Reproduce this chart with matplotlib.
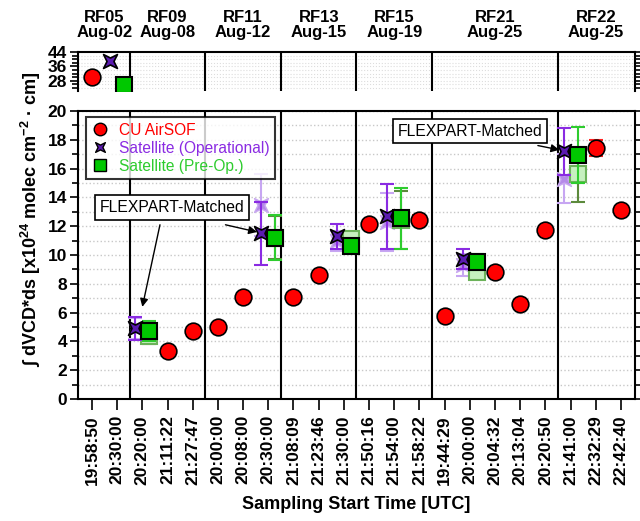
import numpy as np
import matplotlib
matplotlib.use("Agg")
import matplotlib.pyplot as plt
from matplotlib.path import Path
from matplotlib.transforms import blended_transform_factory

plt.rcParams["font.family"] = ["Liberation Sans", "DejaVu Sans"]
plt.rcParams["mathtext.fontset"] = "custom"
plt.rcParams["mathtext.rm"] = "Liberation Sans"
plt.rcParams["mathtext.bf"] = "Liberation Sans:bold"
plt.rcParams["mathtext.default"] = "bf"

# sampling start times (categorical x axis)
times = ["19:58:50", "20:30:00", "20:20:00", "21:11:22", "21:27:47",
         "20:00:00", "20:08:00", "20:30:00", "21:08:09", "21:23:46",
         "21:30:00", "21:50:16", "21:54:00", "21:58:22", "19:44:29",
         "20:00:00", "20:04:32", "20:13:04", "20:20:50", "21:41:00",
         "22:32:29", "22:42:40"]
flights = ["RF05\nAug-02", "RF09\nAug-08", "RF11\nAug-12", "RF13\nAug-15",
           "RF15\nAug-19", "RF21\nAug-25", "RF22\nAug-25"]
flight_sizes = [2, 3, 3, 3, 3, 5, 3]

# CU AirSOF
airsof_idx = [0, 3, 4, 5, 6, 8, 9, 11, 13, 14, 16, 17, 18, 20, 21]
airsof_val = [30.0, 3.35, 4.75, 4.97, 7.1, 7.08, 8.64, 12.13, 12.45,
              5.76, 8.85, 6.6, 11.75, 17.45, 13.1]
airsof_err = [0.3, 0.2, 0.2, 0.2, 0.2, 0.2, 0.2, 0.25, 0.35,
              0.2, 0.2, 0.2, 0.2, 0.55, 0.2]

# satellite overpasses
sat_idx = [1, 2, 7, 10, 12, 15, 19]
op_val = [39.0, 4.9, 11.5, 11.3, 12.7, 9.72, 17.2]
op_err = [0.0, 0.8, 2.2, 0.85, 2.25, 0.7, 1.65]
op_raw_val = [np.nan, 4.9, 13.45, 11.0, 12.3, 9.3, 15.3]
op_raw_err = [np.nan, 0.7, 2.15, 0.7, 2.0, 0.75, 1.7]
preop_val = [25.6, 4.7, 11.2, 10.6, 12.55, 9.5, 16.95]
preop_err = [0.0, 0.7, 1.55, 0.3, 2.1, 0.55, 1.95]
preop_raw_val = [np.nan, 4.4, 11.2, 11.1, 12.45, 8.85, 15.6]
preop_raw_err = [np.nan, 0.6, 1.5, 0.3, 2.0, 0.35, 1.9]

OFF = 0.28
BREAK = 20
bowtie = Path([(-1, -1), (0, -0.5), (1, -1), (0.5, 0), (1, 1), (0, 0.5),
               (-1, 1), (-0.5, 0), (-1, -1)], closed=True)

fig = plt.figure(figsize=(6.4, 5.21), dpi=100)
ax_top = fig.add_axes([0.122, 0.826, 0.870, 0.074])
ax = fig.add_axes([0.122, 0.234, 0.870, 0.553])

x_op = np.array(sat_idx) - OFF
x_pre = np.array(sat_idx) + OFF


def above(vals):
    v = np.array(vals, dtype=float)
    return np.where(v > BREAK, v, np.nan)


def draw(a, top=False):
    pick = above if top else (lambda v: v)
    if not top:
        a.errorbar(x_op, op_raw_val, yerr=op_raw_err, fmt="none", ecolor="#c7a6f2",
                   elinewidth=1.5, capsize=5, capthick=1.5, zorder=2)
        a.errorbar(x_pre, preop_raw_val, yerr=preop_raw_err, fmt="none", ecolor="#5c8a3c",
                   elinewidth=1.5, capsize=5, capthick=1.5, zorder=2)
        a.errorbar(x_op, op_val, yerr=op_err, fmt="none", ecolor="#8a2be2",
                   elinewidth=1.5, capsize=5, capthick=1.5, zorder=4)
        a.errorbar(x_pre, preop_val, yerr=preop_err, fmt="none", ecolor="#2ecc2e",
                   elinewidth=1.5, capsize=5, capthick=1.5, zorder=4)
        a.errorbar(airsof_idx, airsof_val, yerr=airsof_err, fmt="none", ecolor="#ff2020",
                   elinewidth=1.5, capsize=5, capthick=1.5, zorder=4)
        a.plot(x_op, op_raw_val, ls="none", marker=bowtie, ms=10, mfc="#b58ae8",
               mec="#c9a9f0", mew=1, zorder=3)
        a.plot(x_pre, preop_raw_val, ls="none", marker="s", ms=11, mfc="#c6f0bf",
               mec="#6cb25a", mew=1.5, zorder=3)
    a.plot(x_op, pick(op_val), ls="none", marker=bowtie, ms=10, mfc="#5a1ab0",
           mec="k", mew=1.2, zorder=5)
    a.plot(x_pre, pick(preop_val), ls="none", marker="s", ms=11, mfc="#00c800",
           mec="k", mew=1.5, zorder=5)
    a.plot(airsof_idx, pick(airsof_val), ls="none", marker="o", ms=12, mfc="#ff0000",
           mec="k", mew=1.2, zorder=6)
    edges = np.cumsum(flight_sizes)[:-1] - 0.5
    for e in edges:
        a.axvline(e, color="k", lw=1.5, zorder=1)
    a.set_xlim(-0.55, len(times) - 0.45)


draw(ax_top, top=True)
draw(ax)

# top panel (break for RF05 values)
ax_top.set_ylim(22.5, 44)
ax_top.set_yticks([28, 36, 44])
ax_top.set_yticks(np.arange(24, 44, 2), minor=True)
ax_top.grid(axis="y", which="both", color="#dddddd", ls=":", lw=0.8)
ax_top.spines["bottom"].set_visible(False)
for s in ["top", "left", "right"]:
    ax_top.spines[s].set_linewidth(1.5)
ax_top.tick_params(axis="x", bottom=False, labelbottom=False)
ax_top.tick_params(axis="y", which="both", left=True, right=True, direction="out",
                   width=1.2, labelsize=12.5, pad=2)
ax_top.tick_params(axis="y", which="major", length=6)
ax_top.tick_params(axis="y", which="minor", length=4)
for lab in ax_top.get_yticklabels():
    lab.set_fontweight("bold")
ax_top.set_axisbelow(True)

trans = blended_transform_factory(ax_top.transData, fig.transFigure)
start = 0
for name, n in zip(flights, flight_sizes):
    ax_top.text(start + (n - 1) / 2, 0.952, name, transform=trans, ha="center",
                va="center", fontsize=12, fontweight="bold", linespacing=1.0)
    start += n

# main panel
ax.set_ylim(0, 20)
ax.set_yticks(np.arange(0, 21, 2))
ax.set_yticks(np.arange(1, 20, 2), minor=True)
ax.grid(axis="y", which="both", color="#c8c8c8", ls=":", lw=1)
ax.set_axisbelow(True)
for s in ax.spines.values():
    s.set_linewidth(1.5)
ax.set_xticks(range(len(times)))
ax.set_xticklabels(times, rotation=90, fontsize=12.5, fontweight="bold")
ax.tick_params(axis="x", direction="out", length=8, width=1.2)
ax.tick_params(axis="y", which="both", left=True, right=True, direction="out",
               width=1.2, labelsize=12.5, pad=2)
ax.tick_params(axis="y", which="major", length=6)
ax.tick_params(axis="y", which="minor", length=4)
for lab in ax.get_yticklabels():
    lab.set_fontweight("bold")
ax.set_xlabel("Sampling Start Time [UTC]", fontsize=13, fontweight="bold", labelpad=8)
fig.text(0.048, 0.58, "∫ dVCD*ds [x10$^{24}$ molec cm$^{-2}$ · cm]", rotation=90,
         ha="center", va="center", fontsize=13, fontweight="bold")

# legend
h1, = ax.plot([], [], ls="none", marker="o", ms=9, mfc="#ff0000", mec="k", mew=1)
h2, = ax.plot([], [], ls="none", marker=bowtie, ms=7, mfc="#5a1ab0", mec="k", mew=1)
h3, = ax.plot([], [], ls="none", marker="s", ms=8, mfc="#00c800", mec="k", mew=1)
leg = ax.legend([h1, h2, h3], ["CU AirSOF", "Satellite (Operational)", "Satellite (Pre-Op.)"],
                loc="upper left", bbox_to_anchor=(0.005, 0.995), fontsize=11.2,
                frameon=True, fancybox=False, handlelength=1.2, handletextpad=0.6,
                borderpad=0.35, labelspacing=0.2, borderaxespad=0.3)
leg.get_frame().set_edgecolor("k")
leg.get_frame().set_linewidth(1.5)
for txt, c in zip(leg.get_texts(), ["#ff0000", "#8a2be2", "#2ecc2e"]):
    txt.set_color(c)

# FLEXPART-Matched annotations
box = dict(boxstyle="square,pad=0.3", fc="white", ec="k", lw=1.2)
arrow = dict(arrowstyle="-|>", color="k", lw=1, mutation_scale=12, shrinkA=0, shrinkB=0)
ax.text(3.17, 13.3, "FLEXPART-Matched", ha="center", va="center", fontsize=11.3,
        bbox=box, zorder=8)
ax.annotate("", xy=(2.0, 6.4), xytext=(2.7, 12.1), arrowprops=arrow, zorder=8)
ax.annotate("", xy=(6.55, 11.6), xytext=(5.3, 12.1), arrowprops=arrow, zorder=8)
ax.text(15.0, 18.6, "FLEXPART-Matched", ha="center", va="center", fontsize=11.3,
        bbox=box, zorder=8)
ax.annotate("", xy=(18.55, 17.3), xytext=(17.7, 17.6), arrowprops=arrow, zorder=8)

fig.savefig("out.png", dpi=100)
